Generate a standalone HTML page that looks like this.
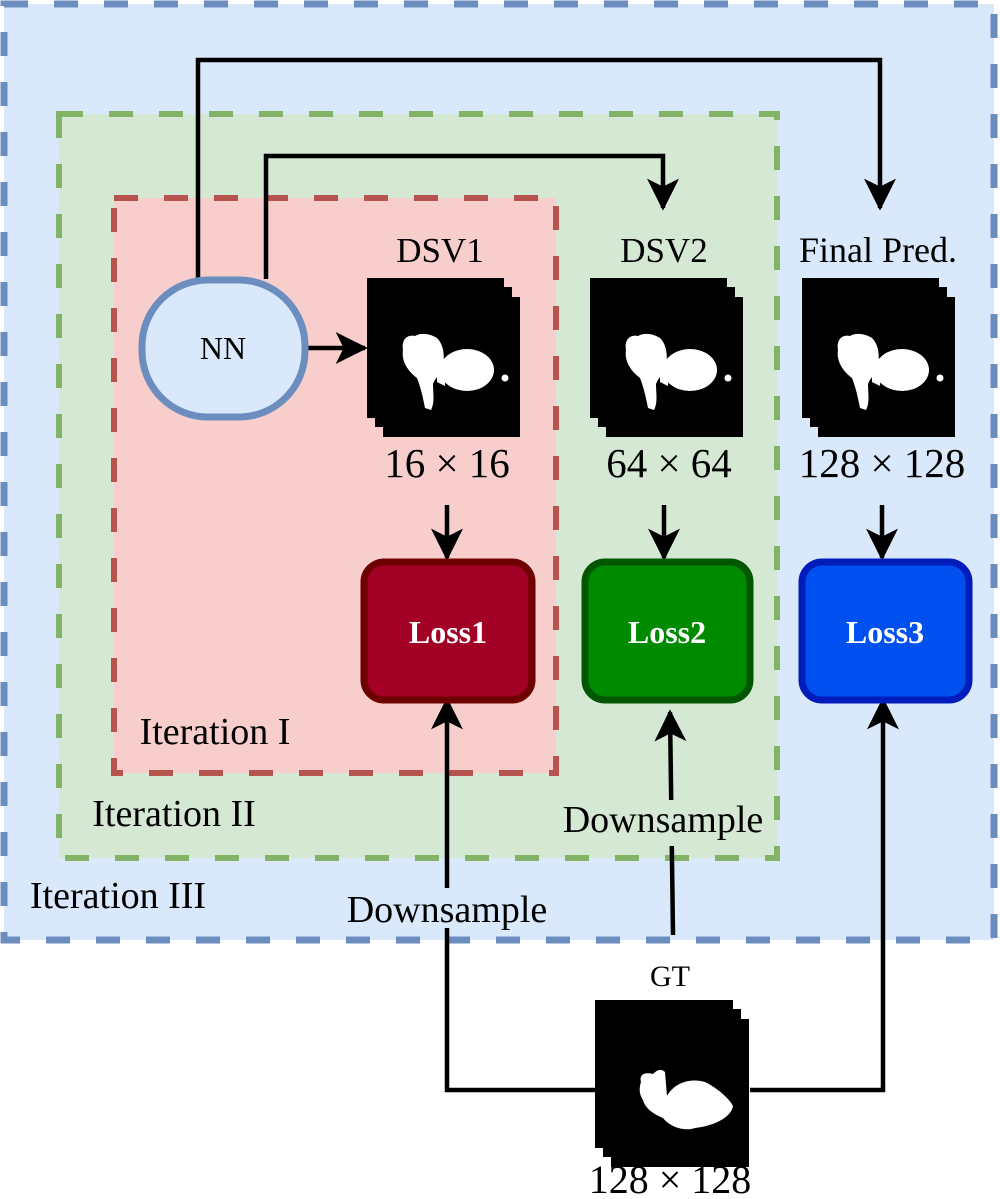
<!DOCTYPE html>
<html><head><meta charset="utf-8"><style>
body{margin:0;background:#fff}
svg{display:block}
text{font-family:"Liberation Serif",serif;fill:#000}
</style></head><body>
<svg width="1000" height="1199" viewBox="0 0 1000 1199" xmlns="http://www.w3.org/2000/svg">
<defs>
<marker id="ah" viewBox="0 0 24 24" refX="22" refY="12" markerWidth="32" markerHeight="32" markerUnits="userSpaceOnUse" orient="auto">
<path d="M0,0 L24,12 L0,24 L6,12 Z" fill="#000"/>
</marker>
<g id="stk">
<rect x="16" y="19" width="137" height="140" fill="#000"/>
<rect x="8" y="9" width="137" height="140" fill="#000"/>
<rect x="0" y="0" width="137" height="140" fill="#000"/>
</g>
<g id="blob" fill="#fff">
<path d="M36,72 C34,62 40,56 48,58 C54,54 64,56 70,60 C76,66 78,76 76,86 C74,96 68,100 66,106 C66,116 68,124 64,132 L58,130 C56,120 54,110 50,100 C42,94 34,84 36,72 Z"/>
<ellipse cx="100" cy="92" rx="27" ry="21"/>
<path d="M70,82 L80,80 L78,108 L70,104 Z"/>
<circle cx="138" cy="100" r="3.5"/>
</g>
</defs>
<rect x="4" y="4" width="990" height="936" fill="#dae8fc" stroke="#6c8ebf" stroke-width="7" stroke-dasharray="24 26"/>
<rect x="59" y="114" width="718" height="744" fill="#d5e8d4" stroke="#82b366" stroke-width="6" stroke-dasharray="24 26"/>
<rect x="114" y="198" width="442" height="575" fill="#f8cecc" stroke="#b85450" stroke-width="6" stroke-dasharray="24 26"/>

<g stroke="#000" stroke-width="4.5" fill="none">
<path d="M198,279 V60 H880 V208" marker-end="url(#ah)"/>
<path d="M266,279 V156 H663 V208" marker-end="url(#ah)"/>
<path d="M306,348 H365" marker-end="url(#ah)"/>
<path d="M447,505 V558" marker-end="url(#ah)"/>
<path d="M664,505 V558" marker-end="url(#ah)"/>
<path d="M882,505 V558" marker-end="url(#ah)"/>
<path d="M595,1090 H447 V700" marker-end="url(#ah)"/>
<path d="M750,1090 H883 V700" marker-end="url(#ah)"/>
<path d="M673,935 L670,712" marker-end="url(#ah)"/>
</g>

<rect x="142" y="280" width="163" height="137" rx="66" ry="66" fill="#dae8fc" stroke="#6c8ebf" stroke-width="7"/>
<text x="223" y="359" font-size="32" text-anchor="middle">NN</text>

<use href="#stk" x="367" y="278"/><use href="#blob" x="367" y="278"/>
<use href="#stk" x="590" y="278"/><use href="#blob" x="590" y="278"/>
<use href="#stk" x="802" y="278"/><use href="#blob" x="802" y="278"/>
<g transform="translate(595,1000)">
<rect x="16" y="19" width="138" height="148" fill="#000"/>
<rect x="8" y="9" width="138" height="148" fill="#000"/>
<rect x="0" y="0" width="138" height="148" fill="#000"/>
<path d="M46,82 C44,74 50,72 58,74 C62,70 66,68 70,72 L72,96 C80,82 96,78 110,82 C122,88 134,98 138,106 C136,118 118,126 100,128 C88,132 74,126 68,118 C58,114 50,108 48,100 C44,94 44,88 46,82 Z" fill="#fff"/>
</g>

<text x="440" y="262" font-size="35" text-anchor="middle">DSV1</text>
<text x="664" y="262" font-size="35" text-anchor="middle">DSV2</text>
<text x="878" y="262" font-size="36" text-anchor="middle">Final Pred.</text>
<text x="447" y="477" font-size="41" text-anchor="middle">16 × 16</text>
<text x="669" y="477" font-size="41" text-anchor="middle">64 × 64</text>
<text x="882" y="477" font-size="41" text-anchor="middle">128 × 128</text>
<text x="670" y="986" font-size="30" text-anchor="middle">GT</text>
<text x="670" y="1193" font-size="40" text-anchor="middle">128 × 128</text>

<rect x="364" y="562" width="168" height="138" rx="20" fill="#a20025" stroke="#6f0000" stroke-width="7"/>
<text x="448" y="643" font-size="32" font-weight="bold" text-anchor="middle" style="fill:#fff">Loss1</text>
<rect x="585" y="562" width="165" height="138" rx="20" fill="#008a00" stroke="#005700" stroke-width="7"/>
<text x="667" y="643" font-size="32" font-weight="bold" text-anchor="middle" style="fill:#fff">Loss2</text>
<rect x="802" y="562" width="167" height="138" rx="20" fill="#0050ef" stroke="#001dbc" stroke-width="7"/>
<text x="885" y="643" font-size="32" font-weight="bold" text-anchor="middle" style="fill:#fff">Loss3</text>

<rect x="338" y="888" width="220" height="40" fill="#dae8fc"/>
<text x="447" y="922" font-size="38" text-anchor="middle">Downsample</text>
<rect x="556" y="800" width="214" height="46" fill="#d5e8d4"/>
<text x="663" y="832" font-size="38" text-anchor="middle">Downsample</text>

<text x="215" y="744" font-size="38" text-anchor="middle">Iteration I</text>
<text x="174" y="826" font-size="38" text-anchor="middle">Iteration II</text>
<text x="118" y="908" font-size="38" text-anchor="middle">Iteration III</text>
</svg>
</body></html>
